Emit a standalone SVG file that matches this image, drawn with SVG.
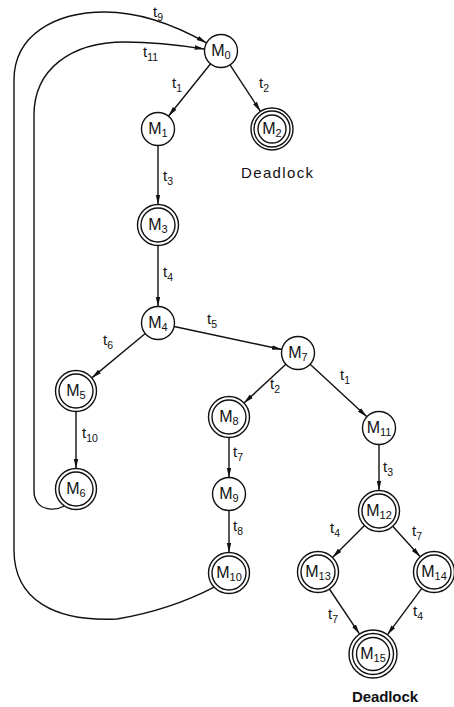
<svg xmlns="http://www.w3.org/2000/svg" width="454" height="707" viewBox="0 0 454 707">
  <style>
    .n circle { fill: #fff; stroke: #111; stroke-width: 1.4; }
    .e path, .e line { fill: none; stroke: #111; stroke-width: 1.4; marker-end: url(#ah); }
    text { font-family: "Liberation Sans", Arial, sans-serif; fill: #111; }
    .m { font-size: 16px; text-anchor: middle; }
    .m .s { font-size: 11px; }
    .t { font-size: 15px; }
    .s { font-size: 10.5px; }
    .dl { font-size: 15px; }
    .dlb { font-size: 15px; font-weight: bold; }
  </style>
  <defs>
    <marker id="ah" viewBox="0 0 10 6" refX="10" refY="3" markerWidth="10" markerHeight="6" markerUnits="userSpaceOnUse" orient="auto">
      <path d="M0,0.7 L10,3 L0,5.3 Z" fill="#111"/>
    </marker>
  </defs>

  <!-- transitions -->
  <g id="connectors" class="e">
    <line x1="210.6" y1="63.8" x2="168.4" y2="116.2"/>
    <line x1="230" y1="64.8" x2="260.5" y2="111.4"/>
    <line x1="158" y1="145.5" x2="158" y2="204.5"/>
    <line x1="158" y1="245.5" x2="158" y2="306.5"/>
    <line x1="145.3" y1="333.5" x2="91.8" y2="377.9"/>
    <line x1="174.1" y1="326.5" x2="281.9" y2="349.5"/>
    <line x1="76" y1="411.5" x2="76" y2="468.5"/>
    <line x1="285.9" y1="364.2" x2="244" y2="403.1"/>
    <line x1="310.1" y1="364.2" x2="366.9" y2="416.8"/>
    <line x1="229" y1="437.5" x2="229" y2="477.5"/>
    <line x1="229" y1="510.5" x2="229" y2="552.5"/>
    <line x1="379" y1="444.5" x2="379" y2="490.5"/>
    <line x1="364.5" y1="525.5" x2="332.5" y2="557.5"/>
    <line x1="392.7" y1="526.2" x2="420.3" y2="556.8"/>
    <line x1="329.4" y1="589" x2="359.6" y2="634.1"/>
    <line x1="421.8" y1="588.4" x2="387.3" y2="634.8"/>
    <!-- t9: M10 back to M0 -->
    <path d="M214.2,587.1 Q170,610 117,619 C55,622 14,600 14,550 L14,80 C14,35 55,12 105,12 C145,12 180,28 206.6,42.9"/>
    <!-- t11: M6 back to M0 -->
    <path d="M64.5,506 C55,511 42,510 37,502 C34,497 34,494 34,488 L34,115 C34,70 70,42 125,42 C160,42 185,46 204.6,49.1"/>
  </g>

  <!-- transition labels -->
  <g id="labels">
    <text class="t" x="153" y="17">t<tspan class="s" dy="3.5">9</tspan></text>
    <text class="t" x="143" y="57">t<tspan class="s" dy="3.5">11</tspan></text>
    <text class="t" x="172" y="88">t<tspan class="s" dy="3.5">1</tspan></text>
    <text class="t" x="259" y="88">t<tspan class="s" dy="3.5">2</tspan></text>
    <text class="t" x="163" y="181">t<tspan class="s" dy="3.5">3</tspan></text>
    <text class="t" x="163" y="277">t<tspan class="s" dy="3.5">4</tspan></text>
    <text class="t" x="207" y="324">t<tspan class="s" dy="3.5">5</tspan></text>
    <text class="t" x="103" y="345">t<tspan class="s" dy="3.5">6</tspan></text>
    <text class="t" x="270" y="389">t<tspan class="s" dy="3.5">2</tspan></text>
    <text class="t" x="340" y="380">t<tspan class="s" dy="3.5">1</tspan></text>
    <text class="t" x="82" y="438">t<tspan class="s" dy="3.5">10</tspan></text>
    <text class="t" x="233" y="457">t<tspan class="s" dy="3.5">7</tspan></text>
    <text class="t" x="233" y="531">t<tspan class="s" dy="3.5">8</tspan></text>
    <text class="t" x="383" y="472">t<tspan class="s" dy="3.5">3</tspan></text>
    <text class="t" x="330" y="533">t<tspan class="s" dy="3.5">4</tspan></text>
    <text class="t" x="412" y="536">t<tspan class="s" dy="3.5">7</tspan></text>
    <text class="t" x="328" y="619">t<tspan class="s" dy="3.5">7</tspan></text>
    <text class="t" x="413" y="616">t<tspan class="s" dy="3.5">4</tspan></text>
  </g>

  <!-- markings -->
  <g id="M0" class="n"><circle cx="221" cy="51" r="16.5"/><text class="m" x="221" y="56">M<tspan class="s" dy="3">0</tspan></text></g>
  <g id="M1" class="n"><circle cx="158" cy="129" r="16.5"/><text class="m" x="158" y="134">M<tspan class="s" dy="3">1</tspan></text></g>
  <g id="M2" class="n"><circle cx="272" cy="129" r="21"/><circle cx="272" cy="129" r="18"/><circle cx="272" cy="129" r="14"/><text class="m" x="272" y="134">M<tspan class="s" dy="3">2</tspan></text></g>
  <g id="M3" class="n"><circle cx="158" cy="225" r="20.5"/><circle cx="158" cy="225" r="17"/><text class="m" x="158" y="230">M<tspan class="s" dy="3">3</tspan></text></g>
  <g id="M4" class="n"><circle cx="158" cy="323" r="16.5"/><text class="m" x="158" y="328">M<tspan class="s" dy="3">4</tspan></text></g>
  <g id="M5" class="n"><circle cx="76" cy="391" r="20.5"/><circle cx="76" cy="391" r="17"/><text class="m" x="76" y="396">M<tspan class="s" dy="3">5</tspan></text></g>
  <g id="M6" class="n"><circle cx="76" cy="489" r="20.5"/><circle cx="76" cy="489" r="17"/><text class="m" x="76" y="494">M<tspan class="s" dy="3">6</tspan></text></g>
  <g id="M7" class="n"><circle cx="298" cy="353" r="16.5"/><text class="m" x="298" y="358">M<tspan class="s" dy="3">7</tspan></text></g>
  <g id="M8" class="n"><circle cx="229" cy="417" r="20.5"/><circle cx="229" cy="417" r="17"/><text class="m" x="229" y="422">M<tspan class="s" dy="3">8</tspan></text></g>
  <g id="M9" class="n"><circle cx="229" cy="494" r="16.5"/><text class="m" x="229" y="499">M<tspan class="s" dy="3">9</tspan></text></g>
  <g id="M10" class="n"><circle cx="229" cy="573" r="20.5"/><circle cx="229" cy="573" r="17"/><text class="m" x="229" y="578">M<tspan class="s" dy="3">10</tspan></text></g>
  <g id="M11" class="n"><circle cx="379" cy="428" r="16.5"/><text class="m" x="379" y="433">M<tspan class="s" dy="3">11</tspan></text></g>
  <g id="M12" class="n"><circle cx="379" cy="511" r="20.5"/><circle cx="379" cy="511" r="17"/><text class="m" x="379" y="516">M<tspan class="s" dy="3">12</tspan></text></g>
  <g id="M13" class="n"><circle cx="318" cy="572" r="20.5"/><circle cx="318" cy="572" r="17"/><text class="m" x="318" y="577">M<tspan class="s" dy="3">13</tspan></text></g>
  <g id="M14" class="n"><circle cx="434" cy="572" r="20.5"/><circle cx="434" cy="572" r="17"/><text class="m" x="434" y="577">M<tspan class="s" dy="3">14</tspan></text></g>
  <g id="M15" class="n"><circle cx="373" cy="654" r="24"/><circle cx="373" cy="654" r="20.5"/><circle cx="373" cy="654" r="16.5"/><text class="m" x="373" y="659">M<tspan class="s" dy="3">15</tspan></text></g>

  <text class="dl" x="241" y="178" textLength="72" lengthAdjust="spacing">Deadlock</text>
  <text class="dlb" x="352" y="702" textLength="66" lengthAdjust="spacing">Deadlock</text>
</svg>
